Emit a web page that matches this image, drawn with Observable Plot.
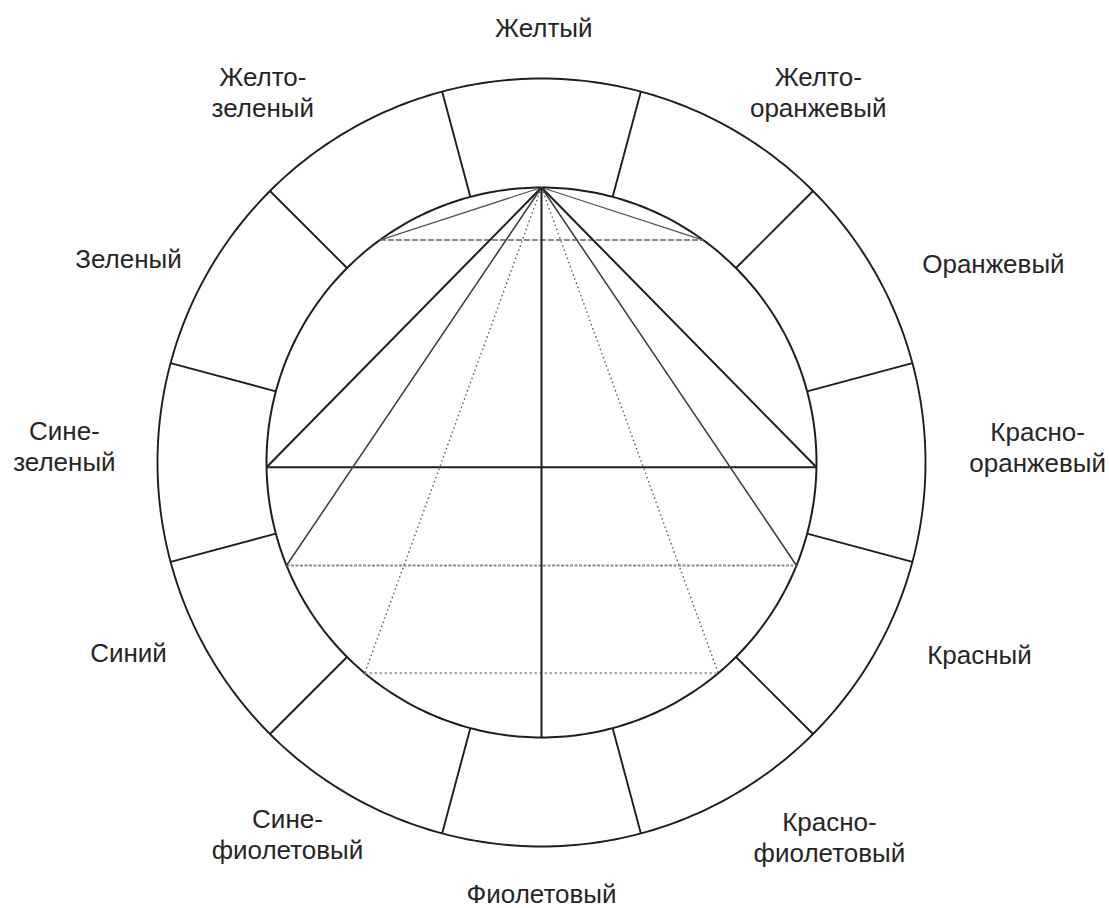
<!DOCTYPE html>
<html>
<head>
<meta charset="utf-8">
<script src="https://cdn.jsdelivr.net/npm/d3@7"></script>
<script src="https://cdn.jsdelivr.net/npm/@observablehq/plot@0.6"></script>
<style>
  html, body { margin: 0; padding: 0; background: #fff; }
  #chart svg { display: block; }
</style>
</head>
<body>
<div id="chart"></div>
<script>
// ---- Data (clockwise from the top) ----
const colorNames = [
  "Желтый", "Желто-\nоранжевый", "Оранжевый", "Красно-\nоранжевый",
  "Красный", "Красно-\nфиолетовый", "Фиолетовый", "Сине-\nфиолетовый",
  "Синий", "Сине-\nзеленый", "Зеленый", "Желто-\nзеленый"
];
const hueAngles = [0, 30, 60, 90, 120, 150, 180, 210, 240, 270, 300, 330];
const boundaryAngles = [15, 45, 75, 105, 135, 165, 195, 225, 255, 285, 315, 345];
// inscribed isosceles triangles with apex at the top (angles of base vertices)
const triangleAngles = [36, 91, 112, 140];
const triangleNames = ["small", "right", "wide", "dotted"];

// ---- Layout (not data) ----
const innerR = 1;
const outerR = 384 / 275;
const labelPlace = [ // [angle, distance] per label
  [0.3, 1.585], [36.7, 1.684], [66.2, 1.796], [88.2, 1.805],
  [113.6, 1.738], [142.4, 1.716], [180, 1.565], [214.4, 1.635],
  [245.3, 1.653], [272, 1.736], [296.3, 1.675], [323.1, 1.688]
];
const sideStyle = {
  small:  {stroke: "#555", strokeWidth: 1.3, strokeDasharray: null},
  right:  {stroke: "#1e1e1e", strokeWidth: 2.0, strokeDasharray: null},
  wide:   {stroke: "#3a3a3a", strokeWidth: 1.5, strokeDasharray: null},
  dotted: {stroke: "#555", strokeWidth: 1.4, strokeDasharray: "1.4,3"}
};
const baseStyle = {
  small:  {stroke: "#8a8a8a", strokeWidth: 1.8, strokeDasharray: "6,2"},
  right:  {stroke: "#1e1e1e", strokeWidth: 2.0, strokeDasharray: null},
  wide:   {stroke: "#8a8a8a", strokeWidth: 2.2, strokeDasharray: "3,1.5"},
  dotted: {stroke: "#9a9a9a", strokeWidth: 2.2, strokeDasharray: "2,3"}
};

const rad = a => a * Math.PI / 180;
const px = (a, r) => r * Math.sin(rad(a));
const py = (a, r) => r * Math.cos(rad(a));
const circle = r => d3.range(0, 361, 1).map(a => ({x: px(a, r), y: py(a, r)}));

const tri = triangleAngles.map((a, i) => ({a, name: triangleNames[i]}));

const marks = [];
// circles
marks.push(Plot.line(circle(innerR), {x: "x", y: "y", stroke: "#1e1e1e", strokeWidth: 2.0}));
marks.push(Plot.line(circle(outerR), {x: "x", y: "y", stroke: "#1e1e1e", strokeWidth: 1.9}));
// segment boundaries
marks.push(Plot.link(boundaryAngles, {
  x1: a => px(a, innerR), y1: a => py(a, innerR),
  x2: a => px(a, outerR), y2: a => py(a, outerR),
  stroke: "#1e1e1e", strokeWidth: 1.9
}));
// triangle bases
for (const t of tri) {
  const s = baseStyle[t.name];
  marks.push(Plot.link([t], {
    x1: d => px(-d.a, innerR), y1: d => py(-d.a, innerR),
    x2: d => px(d.a, innerR), y2: d => py(d.a, innerR),
    ...s
  }));
}
// triangle sides
for (const t of tri) {
  const s = sideStyle[t.name];
  marks.push(Plot.link([t, {a: -t.a}], {
    x1: 0, y1: innerR,
    x2: d => px(d.a, innerR), y2: d => py(d.a, innerR),
    ...s
  }));
}
// vertical diameter
marks.push(Plot.link([180], {
  x1: 0, y1: innerR, x2: a => px(a, innerR), y2: a => py(a, innerR),
  stroke: "#1e1e1e", strokeWidth: 2.0
}));
// labels
marks.push(Plot.text(colorNames, {
  x: (d, i) => px(labelPlace[i][0], labelPlace[i][1]),
  y: (d, i) => py(labelPlace[i][0], labelPlace[i][1]),
  text: d => d,
  textAnchor: "middle",
  lineAnchor: "middle",
  lineHeight: 1.19,
  fontSize: 26,
  fill: "#262626"
}));

const chart = Plot.plot({
  width: 1109,
  height: 908,
  margin: 0,
  x: {domain: [-541 / 275, 568 / 275], axis: null},
  y: {domain: [-446 / 275, 462 / 275], axis: null},
  style: {background: "#fff", fontFamily: "'Liberation Sans', Arial, sans-serif"},
  marks
});
document.getElementById("chart").appendChild(chart);
</script>
</body>
</html>
